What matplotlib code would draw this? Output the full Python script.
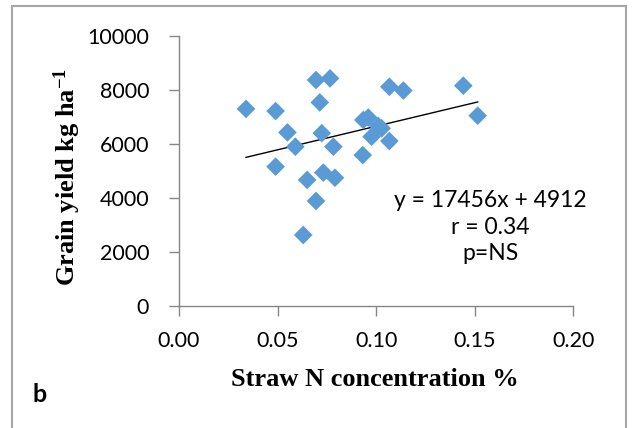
import matplotlib
matplotlib.use("Agg")
import matplotlib.pyplot as plt
from matplotlib.patches import Rectangle
import numpy as np

# Data
straw_n = [0.034, 0.049, 0.055, 0.059, 0.049, 0.065, 0.0695, 0.063, 0.0695, 0.0766,
           0.0714, 0.0724, 0.0783, 0.0732, 0.0791, 0.0932, 0.0935, 0.096, 0.101, 0.1028,
           0.0977, 0.1067, 0.1067, 0.1138, 0.1442, 0.1515]
grain_yield = [7300, 7220, 6430, 5900, 5160, 4670, 3890, 2630, 8370, 8430,
               7540, 6400, 5900, 4940, 4750, 5590, 6890, 6980, 6670, 6580,
               6270, 6110, 8120, 7980, 8160, 7050]
slope = 17456
intercept = 4912
x_ticks = [0.00, 0.05, 0.10, 0.15, 0.20]
y_ticks = [0, 2000, 4000, 6000, 8000, 10000]
annotation = "y = 17456x + 4912\nr = 0.34\np=NS"

plt.rcParams['mathtext.fontset'] = 'custom'
plt.rcParams['mathtext.bf'] = 'Liberation Serif:bold'
plt.rcParams['mathtext.rm'] = 'Liberation Serif:bold'
plt.rcParams['mathtext.default'] = 'bf'

W, H = 632, 428
fig = plt.figure(figsize=(W / 100, H / 100), dpi=100)
ax = fig.add_axes([179 / W, 1 - 306 / H, (573.3 - 179) / W, (306 - 36) / H])

gray = '#868686'
ax.scatter(straw_n, grain_yield, marker='D', s=9.5 ** 2, color='#5B9BD5',
           edgecolors='none', zorder=3)

xl = np.array([min(straw_n), max(straw_n)])
ax.plot(xl, slope * xl + intercept, color='black', lw=1.0, zorder=2)

ax.set_xlim(0, 0.2)
ax.set_ylim(0, 10000)
ax.set_xticks(x_ticks)
ax.set_yticks(y_ticks)
ax.set_xticklabels([f"{v:.2f}" for v in x_ticks])
ax.set_yticklabels([str(v) for v in y_ticks])

for s in ['top', 'right']:
    ax.spines[s].set_visible(False)
for s in ['left', 'bottom']:
    ax.spines[s].set_color(gray)
    ax.spines[s].set_linewidth(1.0)
ax.tick_params(axis='both', colors=gray, length=7, width=1.0, direction='out',
               labelcolor='black', labelsize=15.5)
ax.tick_params(axis='y', pad=14.5)
ax.tick_params(axis='x', pad=11)
for lab in ax.get_xticklabels() + ax.get_yticklabels():
    lab.set_fontfamily('Lato')

fig.text(375 / W, 1 - 380 / H, "Straw N concentration %", ha='center', va='center',
         fontfamily='Liberation Serif', fontweight='bold', fontsize=19)
fig.text(67 / W, 1 - 177 / H, r"Grain yield kg ha$^{-1}$", ha='center', va='center',
         rotation=90, fontfamily='Liberation Serif', fontweight='bold', fontsize=19)

fig.text(490 / W, 1 - 227 / H, annotation, ha='center', va='center',
         fontfamily='Lato', fontsize=16.5, linespacing=1.3, multialignment='center')

fig.text(40 / W, 1 - 395 / H, "b", ha='center', va='center', fontfamily='Lato',
         fontweight='bold', fontsize=18)

fig.patches.append(Rectangle((12 / W, -0.05), (626 - 12) / W, 1 - 6 / H + 0.05,
                             transform=fig.transFigure, fill=False,
                             edgecolor='#a6a6a6', lw=1.5))

fig.savefig('out.png', dpi=100)
